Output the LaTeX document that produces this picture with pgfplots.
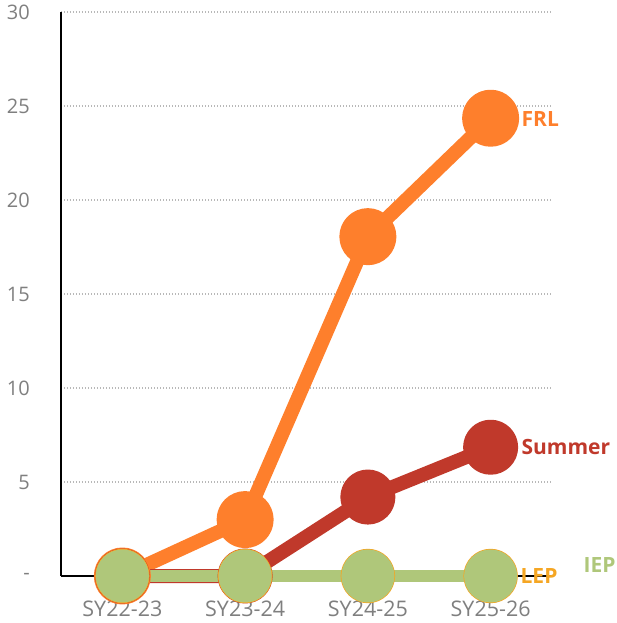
\documentclass[border=0pt]{standalone}
\usepackage{pgfplots}
\pgfplotsset{compat=1.18}
\usepackage{fontspec}
\setmainfont{Open Sans}
\definecolor{frl}{HTML}{FE7F2C}
\definecolor{summer}{HTML}{C0392B}
\definecolor{iep}{HTML}{AFC77A}
\definecolor{lep}{HTML}{F5A623}
\definecolor{ticktext}{HTML}{7F7F7F}
\begin{document}
\begin{tikzpicture}
\useasboundingbox (-61pt,-47pt) rectangle (555pt,576pt);
\begin{axis}[
  scale only axis, width=491pt, height=564pt,
  xmin=-0.5, xmax=3.5, ymin=0, ymax=30,
  axis x line*=bottom, axis y line*=left,
  axis line style={black, line width=1.8pt},
  major tick length=0pt,
  xtick={0,1,2,3},
  xticklabels={SY22-23,SY23-24,SY24-25,SY25-26},
  ytick={0,5,10,15,20,25,30},
  yticklabels={{-\hspace{15pt}},5,10,15,20,25,30},
  ymajorgrids,
  grid style={dash pattern=on 1.2pt off 1.8pt, black!28, line width=1.1pt},
  yticklabel style={font=\fontsize{20}{24}\selectfont, text=ticktext, anchor=east, inner sep=0pt, xshift=-31pt},
  xticklabel style={font=\fontsize{21.5}{24}\selectfont, text=ticktext, anchor=north, inner sep=0pt, yshift=-25pt},
  clip=false,
  every axis plot/.append style={mark=*, line cap=butt, line join=round},
]
\addplot[frl, line width=14pt, mark size=21.5pt, mark options={fill=frl, draw=none}]
  coordinates {(0,0) (1,3.0) (2,18.05) (3,24.35)}
  node[anchor=west, inner sep=0pt, xshift=24pt, yshift=-1pt, text=frl, font=\bfseries\fontsize{21}{24}\selectfont]{FRL};
\addplot[summer, line width=14pt, mark size=20.5pt, mark options={fill=summer, draw=none}]
  coordinates {(0,0) (1,0) (2,4.2) (3,6.85)}
  node[anchor=west, inner sep=0pt, xshift=24pt, text=summer, font=\bfseries\fontsize{21}{24}\selectfont]{Summer};
\addplot[lep, line width=12pt, mark size=21.2pt, mark options={fill=lep, draw=none}]
  coordinates {(0,0) (1,0) (2,0) (3,0)}
  node[anchor=west, inner sep=0pt, xshift=24pt, text=lep, font=\bfseries\fontsize{21}{24}\selectfont]{LEP};
\addplot[iep, line width=12pt, mark size=20.5pt, mark options={fill=iep, draw=none}]
  coordinates {(0,0) (1,0) (2,0) (3,0)}
  node[anchor=west, inner sep=0pt, xshift=87pt, yshift=11pt, text=iep, font=\bfseries\fontsize{21}{24}\selectfont]{IEP};
\end{axis}
\end{tikzpicture}
\end{document}
